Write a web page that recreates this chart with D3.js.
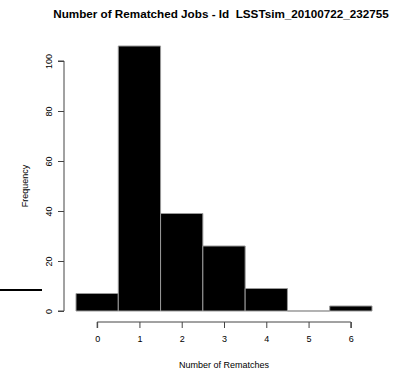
<!DOCTYPE html>
<html>
<head>
<meta charset="utf-8">
<title>rematches</title>
<style>
	body { margin: 0; background: #fff; }
	svg text { font-family: "Liberation Sans", Arial, sans-serif; fill: #000; }
	.axis path, .axis line { stroke: #444; }
	.axis text { font-size: 9px; }
</style>
<script src="https://d3js.org/d3.v7.min.js"></script>
</head>
<body>
<svg id="chart" width="405" height="376"></svg>
<script>
	// histogram of rematches per job
	const rematches = [0, 1, 2, 3, 4, 5, 6];
	const counts = [7, 106, 39, 26, 9, 0, 2];
	const yTicks = [0, 20, 40, 60, 80, 100];

	const svg = d3.select('#chart');

	const x = d3.scaleLinear().domain([-0.5, 6.5]).range([76, 372]);
	const y = d3.scaleLinear().domain([0, 100]).range([311, 61]);

	// paths so the empty bin still shows its border
	svg.selectAll('path.bar')
		.data(rematches)
		.enter().append('path')
		.attr('class', 'bar')
		.attr('d', (d, i) => `M${x(d - 0.5)},${y(0)}V${y(counts[i])}H${x(d + 0.5)}V${y(0)}Z`)
		.attr('fill', '#000')
		.attr('stroke', '#999')
		.attr('stroke-width', 1);

	const xAxis = svg.append('g')
		.attr('class', 'axis')
		.attr('transform', 'translate(0,322)')
		.call(d3.axisBottom(x).tickValues(rematches).tickFormat(d3.format('d')).tickSize(6).tickSizeOuter(0).tickPadding(8));
	xAxis.select('.domain').attr('d', `M${x(0)},6V0H${x(6)}V6`);

	const yAxis = svg.append('g')
		.attr('class', 'axis')
		.attr('transform', 'translate(64,0)')
		.call(d3.axisLeft(y).tickValues(yTicks).tickFormat(d3.format('d')).tickSize(6).tickSizeOuter(0));
	yAxis.select('.domain').attr('d', `M-6,${y(0)}H0V${y(100)}H-6`);
	yAxis.selectAll('.tick text')
		.attr('x', null)
		.attr('text-anchor', 'middle')
		.attr('transform', 'translate(-15,0) rotate(-90)')
		.attr('dy', '0.35em');

	svg.append('text')
		.attr('x', 221).attr('y', 18)
		.attr('text-anchor', 'middle')
		.style('font-size', '11.7px').style('font-weight', 'bold')
		.style('white-space', 'pre')
		.text('Number of Rematched Jobs - Id  LSSTsim_20100722_232755');

	svg.append('text')
		.attr('x', x(3)).attr('y', 368)
		.attr('text-anchor', 'middle')
		.style('font-size', '9px')
		.text('Number of Rematches');

	svg.append('text')
		.attr('transform', `translate(28,${y(50)}) rotate(-90)`)
		.attr('text-anchor', 'middle')
		.style('font-size', '9px')
		.text('Frequency');

	// stray line at the left edge
	svg.append('line')
		.attr('x1', 0).attr('x2', 42)
		.attr('y1', 290).attr('y2', 290)
		.attr('stroke', '#000').attr('stroke-width', 2);
</script>
</body>
</html>
